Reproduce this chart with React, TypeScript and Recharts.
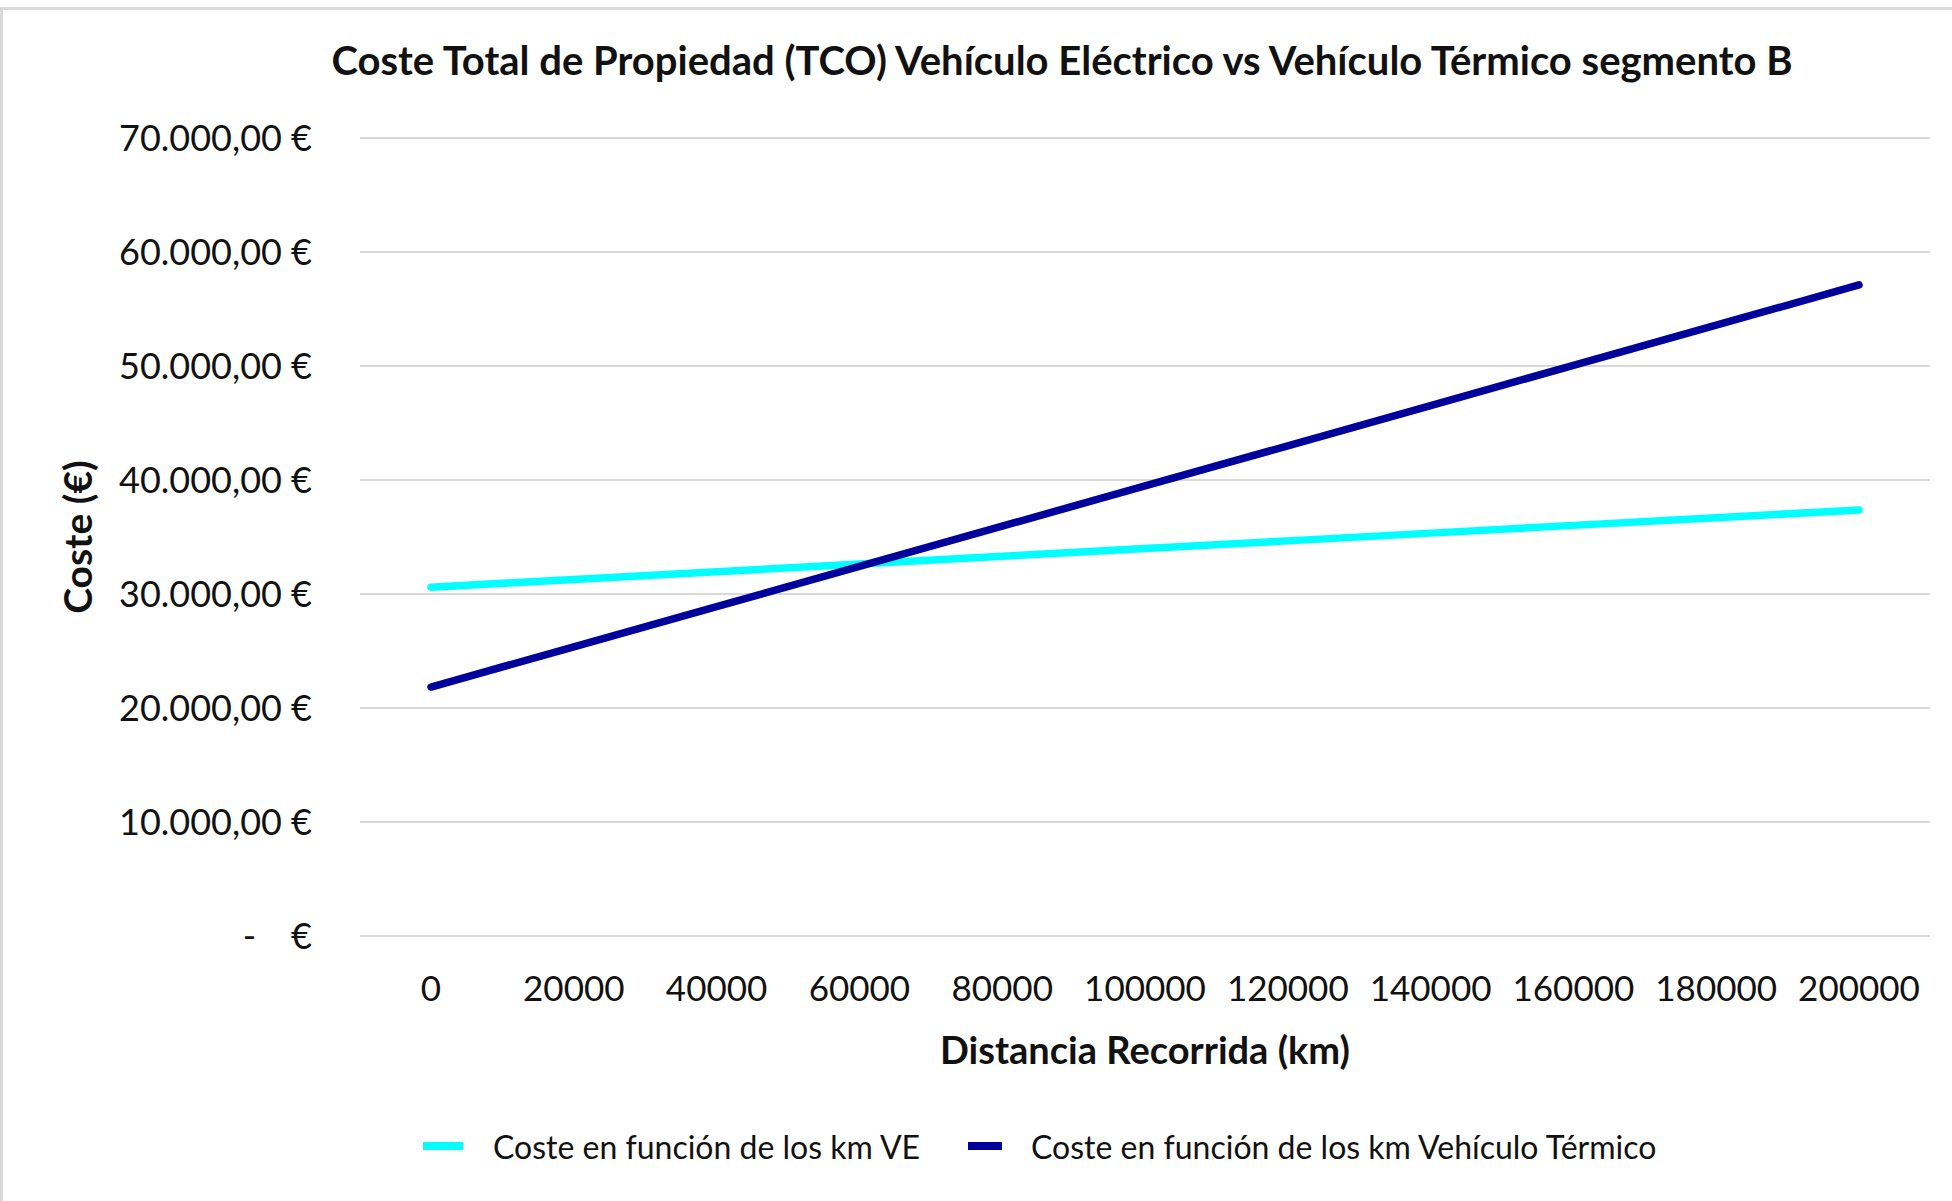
import { LineChart, Line, XAxis, YAxis, CartesianGrid } from 'recharts'

const kmLabels = ['0', '20000', '40000', '60000', '80000', '100000', '120000', '140000', '160000', '180000', '200000']
const costeVE = [30600, 31280, 31950, 32630, 33310, 33990, 34660, 35340, 36020, 36690, 37370]
const costeTermico = [21840, 25370, 28890, 32420, 35950, 39480, 43000, 46530, 50060, 53580, 57110]
const yTicks = [0, 10000, 20000, 30000, 40000, 50000, 60000, 70000]

const seriesNames = ['Coste en función de los km VE', 'Coste en función de los km Vehículo Térmico']
const colors = ['#00ffff', '#00009c']

const data = kmLabels.map((km, i) => ({ km, ve: costeVE[i], termico: costeTermico[i] }))

const FONT = 'Lato, "Open Sans", sans-serif'

function euro(v: number) {
  const s = Math.round(v).toString().replace(/\B(?=(\d{3})+(?!\d))/g, '.')
  return `${s},00 €`
}

function YTick({ x, y, payload }: any) {
  if (payload.value === 0) {
    return (
      <g>
        <text x={x - 56} y={y} dy="0.35em" textAnchor="end" fontSize={36} fill="#111" fontFamily={FONT}>-</text>
        <text x={x} y={y} dy="0.35em" textAnchor="end" fontSize={36} fill="#111" fontFamily={FONT}>€</text>
      </g>
    )
  }
  return (
    <text x={x} y={y} dy="0.35em" textAnchor="end" fontSize={36} fill="#111" fontFamily={FONT}>
      {euro(payload.value)}
    </text>
  )
}

export default function App() {
  return (
    <div style={{ position: 'absolute', left: 0, top: 0, width: 1952, height: 1201, background: '#fff', fontFamily: FONT, color: '#111' }}>
      <div style={{ position: 'absolute', left: 0, top: 7, width: 1952, height: 1194, borderTop: '3px solid #d9d9d9', borderLeft: '3px solid #d9d9d9', boxSizing: 'border-box' }} />
      <div style={{ position: 'absolute', left: 0, width: 2124, top: 36, textAlign: 'center', fontSize: 40, fontWeight: 700, lineHeight: '48px' }}>
        Coste Total de Propiedad (TCO) Vehículo Eléctrico vs Vehículo Térmico segmento B
      </div>

      <LineChart width={1952} height={1201} data={data} margin={{ top: 138, right: 22, bottom: 185, left: 0 }} style={{ position: 'absolute', left: 0, top: 0 }}>
        <CartesianGrid vertical={false} stroke="#d9d9d9" strokeWidth={2} />
        <XAxis
          dataKey="km"
          height={80}
          padding={{ left: 71, right: 71 }}
          axisLine={false}
          tickLine={false}
          tickSize={0}
          tickMargin={40}
          interval={0}
          tick={{ fontSize: 35, fill: '#111', fontFamily: FONT }}
        />
        <YAxis
          width={360}
          domain={[0, 70000]}
          ticks={yTicks}
          axisLine={false}
          tickLine={false}
          tickSize={0}
          tickMargin={48}
          tick={<YTick />}
          label={{
            content: () => (
              <text x={77} y={537} transform="rotate(-90 77 537)" textAnchor="middle" dominantBaseline="central" fontSize={39} fontWeight={700} fill="#111" fontFamily={FONT}>
                Coste (€)
              </text>
            ),
          }}
        />
        <Line type="linear" dataKey="ve" name={seriesNames[0]} stroke={colors[0]} strokeWidth={7.5} strokeLinecap="round" dot={false} isAnimationActive={false} />
        <Line type="linear" dataKey="termico" name={seriesNames[1]} stroke={colors[1]} strokeWidth={7.5} strokeLinecap="round" dot={false} isAnimationActive={false} />
      </LineChart>

      <div style={{ position: 'absolute', left: 360, width: 1570, top: 1027, textAlign: 'center', fontSize: 38, fontWeight: 700, lineHeight: '44px' }}>
        Distancia Recorrida (km)
      </div>

      <div style={{ position: 'absolute', left: 423, top: 1126, height: 40, display: 'flex', alignItems: 'center', fontSize: 32 }}>
        <span style={{ display: 'inline-block', width: 40, height: 8, background: colors[0], marginRight: 30 }} />
        <span>{seriesNames[0]}</span>
        <span style={{ display: 'inline-block', width: 34, height: 8, background: colors[1], marginLeft: 48, marginRight: 29 }} />
        <span>{seriesNames[1]}</span>
      </div>
    </div>
  )
}
